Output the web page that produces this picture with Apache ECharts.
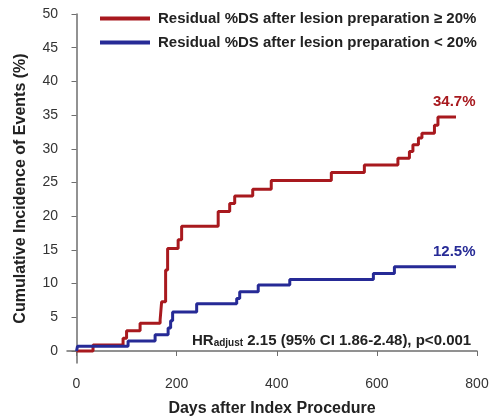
<!DOCTYPE html>
<html>
<head>
<meta charset="utf-8">
<script src="https://cdn.jsdelivr.net/npm/echarts@6/dist/echarts.min.js"></script>
<style>
  html, body { margin: 0; padding: 0; background: #fff; }
  #chart { width: 490px; height: 419px; }
</style>
</head>
<body>
<div id="chart"></div>
<script>
// step points: day of event -> cumulative %
const redDays = [0, 33, 93, 100, 127, 167, 170, 178, 182, 203, 210, 283, 306, 316, 352, 389, 509, 575, 642, 665, 672, 683, 690, 715, 722, 758];
const redPct  = [0, 0.9, 1.9, 3.0, 4.1, 4.6, 7.3, 12.0, 15.2, 16.5, 18.5, 20.7, 21.9, 23.0, 24.0, 25.3, 26.5, 27.6, 28.6, 29.6, 30.6, 31.6, 32.3, 33.5, 34.7, 34.7];

const blueDays = [0, 2, 103, 157, 183, 188, 192, 240, 320, 326, 363, 426, 593, 635, 758];
const bluePct  = [0, 0.7, 1.5, 2.4, 3.4, 4.5, 5.8, 7.0, 7.8, 8.8, 9.8, 10.6, 11.5, 12.5, 12.5];

const xTicks = [0, 200, 400, 600, 800];
const yTicks = [0, 5, 10, 15, 20, 25, 30, 35, 40, 45, 50];

const redName = 'Residual %DS after lesion preparation \u2265 20%';
const blueName = 'Residual %DS after lesion preparation < 20%';

const RED = '#a8191e';
const BLUE = '#262a96';

function pts(days, vals) {
  return days.map((d, i) => [d, vals[i]]);
}

function endLbl(color) {
  return {
    show: true, distance: 5, offset: [-28, -15],
    formatter: p => p.value[1].toFixed(1) + '%',
    color: color, fontWeight: 'bold', fontSize: 15, fontFamily: 'Liberation Sans'
  };
}

const axisColor = '#6e6e6e';

const chart = echarts.init(document.getElementById('chart'));
chart.setOption({
  animation: false,
  textStyle: { fontFamily: 'Liberation Sans' },
  grid: { left: 67, right: 13, top: 14, bottom: 56, outerBoundsMode: 'none', containLabel: false },
  legend: {
    orient: 'vertical',
    left: 95, top: 6,
    itemWidth: 50, itemHeight: 4, itemGap: 9,
    icon: 'rect',
    textStyle: { fontSize: 15, fontWeight: 'bold', color: '#222', padding: [0, 0, 0, 3] },
    data: [redName, blueName]
  },
  xAxis: {
    type: 'value', min: -19, max: 800,
    name: 'Days after Index Procedure',
    nameLocation: 'middle', nameGap: 38,
    nameTextStyle: { fontSize: 16, fontWeight: 'bold', color: '#222' },
    axisLine: { lineStyle: { color: axisColor, width: 1.5 } },
    axisTick: { customValues: xTicks, length: 5, lineStyle: { color: axisColor } },
    axisLabel: { customValues: xTicks, fontSize: 14, color: '#333', margin: 14 },
    splitLine: { show: false }
  },
  yAxis: {
    type: 'value', min: -1.78, max: 50,
    name: 'Cumulative Incidence of Events (%)',
    nameLocation: 'middle', nameGap: 38,
    nameTextStyle: { fontSize: 16, fontWeight: 'bold', color: '#222' },
    axisLine: { show: true, lineStyle: { color: axisColor, width: 1.5 } },
    axisTick: { show: true, customValues: yTicks, length: 5, lineStyle: { color: axisColor } },
    axisLabel: { customValues: yTicks, fontSize: 14, color: '#333', margin: 9 },
    splitLine: { show: false }
  },
  series: [
    {
      name: redName, type: 'line', step: 'end', showSymbol: false,
      color: RED, lineStyle: { width: 3, color: RED },
      endLabel: endLbl(RED),
      data: pts(redDays, redPct)
    },
    {
      name: blueName, type: 'line', step: 'end', showSymbol: false,
      color: BLUE, lineStyle: { width: 3, color: BLUE },
      endLabel: endLbl(BLUE),
      data: pts(blueDays, bluePct)
    }
  ],
  graphic: [{
    type: 'text', left: 192, top: 333,
    style: {
      text: '{a|HR}{s|adjust}{a| 2.15 (95% CI 1.86-2.48), p<0.001}',
      rich: {
        a: { fontSize: 15, fontWeight: 'bold', fill: '#222', fontFamily: 'Liberation Sans', verticalAlign: 'bottom' },
        s: { fontSize: 10, fontWeight: 'bold', fill: '#222', fontFamily: 'Liberation Sans', verticalAlign: 'bottom' }
      }
    }
  }]
});
</script>
</body>
</html>
